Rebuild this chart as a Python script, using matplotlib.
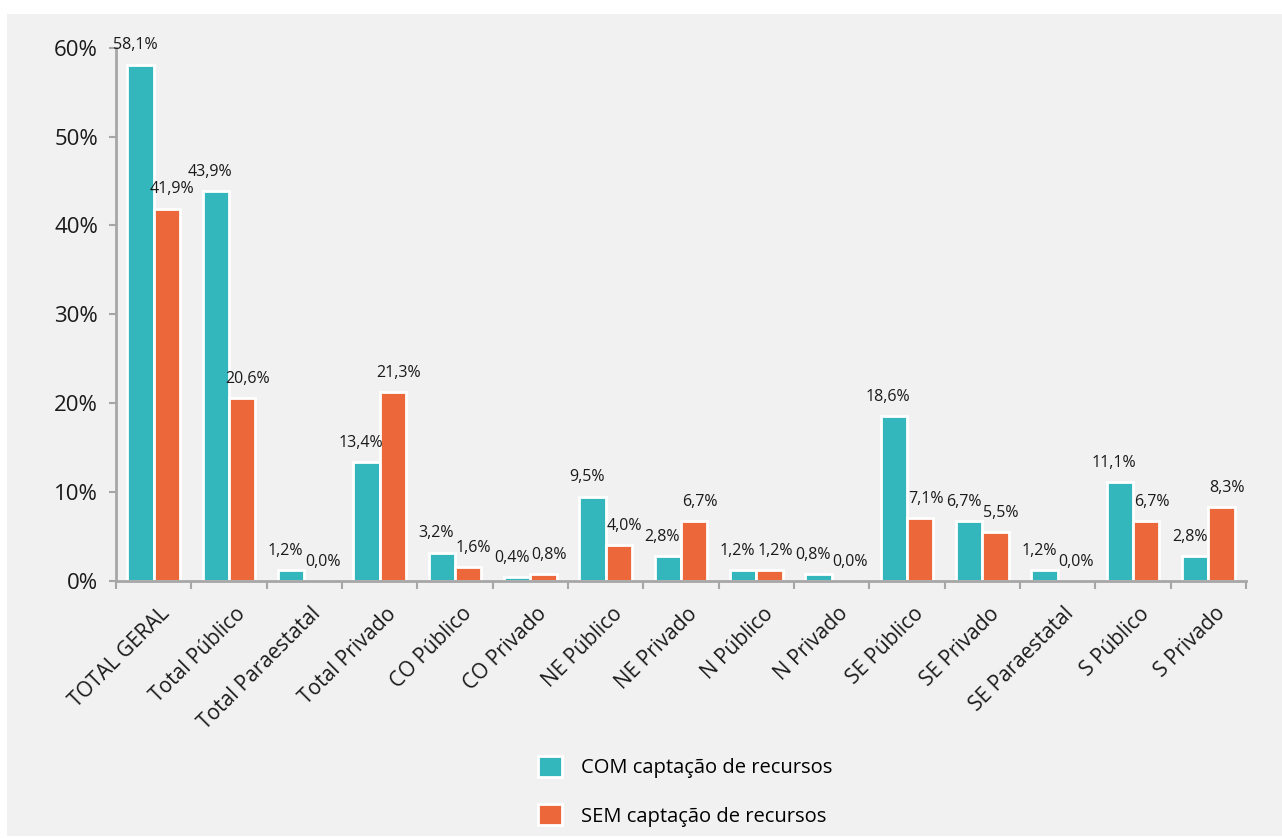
import matplotlib
matplotlib.use("Agg")
import matplotlib.pyplot as plt
import matplotlib.transforms as mtransforms
from matplotlib.patches import Rectangle
import numpy as np

# dados do gráfico
categorias = ["TOTAL GERAL", "Total Público", "Total Paraestatal", "Total Privado",
              "CO Público", "CO Privado", "NE Público", "NE Privado",
              "N Público", "N Privado", "SE Público", "SE Privado",
              "SE Paraestatal", "S Público", "S Privado"]
com_captacao = [58.1, 43.9, 1.2, 13.4, 3.2, 0.4, 9.5, 2.8, 1.2, 0.8, 18.6, 6.7, 1.2, 11.1, 2.8]
sem_captacao = [41.9, 20.6, 0.0, 21.3, 1.6, 0.8, 4.0, 6.7, 1.2, 0.0, 7.1, 5.5, 0.0, 6.7, 8.3]
serie_nomes = ["COM captação de recursos", "SEM captação de recursos"]
yticks = [0, 10, 20, 30, 40, 50, 60]

TEAL = "#33b7bc"
LARANJA = "#ec673a"
CINZA = "#a6a6a6"
FUNDO = "#f1f1f1"

plt.rcParams['font.family'] = ['Open Sans', 'DejaVu Sans']


def rotulo(ax, x, v, dx):
	"""escreve o valor em cima da barra, com virgula decimal"""
	txt = ("%.1f%%" % v).replace(".", ",")
	ax.annotate(txt, xy=(x, v), xytext=(dx, 8), textcoords="offset points",
				ha="center", va="bottom", fontsize=11.5, color="#1a1a1a")


W, H = 1282, 838
fig = plt.figure(figsize=(W / 100, H / 100), dpi=100, facecolor="white")
# painel cinza atras de tudo
fig.patches.append(Rectangle((7 / W, 2 / H), 1 - 7 / W, (836 - 14) / H,
							 transform=fig.transFigure, facecolor=FUNDO,
							 edgecolor="none", zorder=-10))

ax = fig.add_axes([116 / W, (H - 581) / H, (1246 - 116) / W, (581 - 47.7) / H])
ax.set_facecolor("none")

x = np.arange(len(categorias))
w = 0.35
b1 = ax.bar(x - w / 2, com_captacao, w, color=TEAL, edgecolor="white", linewidth=2,
			label=serie_nomes[0])
b2 = ax.bar(x + w / 2, sem_captacao, w, color=LARANJA, edgecolor="white", linewidth=2,
			label=serie_nomes[1])
for i in range(len(categorias)):
	rotulo(ax, x[i] - w / 2, com_captacao[i], -4)
	rotulo(ax, x[i] + w / 2, sem_captacao[i], 4)

ax.set_xlim(-0.5, len(categorias) - 0.5)
ax.set_ylim(0, 60)
ax.set_yticks(yticks)
ax.set_yticklabels(["%d%%" % t for t in yticks], fontsize=16, color="#1a1a1a")
ax.tick_params(axis="y", length=5, width=1.5, color=CINZA, pad=8)

# marcas entre as categorias, rotulos no centro
ax.set_xticks(x)
ax.set_xticklabels(categorias, rotation=45, ha="right", rotation_mode="anchor",
				   fontsize=15, color="#1a1a1a")
ax.set_xticks(np.arange(len(categorias) + 1) - 0.5, minor=True)
ax.tick_params(axis="x", which="major", length=0, pad=16)
ax.tick_params(axis="x", which="minor", length=6, width=1.5, color=CINZA)
desloc = mtransforms.ScaledTranslation(6 / 100, 0, fig.dpi_scale_trans)
for lb in ax.get_xticklabels():
	lb.set_transform(lb.get_transform() + desloc)

for lado in ["top", "right"]:
	ax.spines[lado].set_visible(False)
for lado in ["left", "bottom"]:
	ax.spines[lado].set_color(CINZA)
	ax.spines[lado].set_linewidth(2)

fig.legend(handles=[b1, b2], loc="upper left", bbox_to_anchor=(520 / W, 1 - 738 / H),
		   frameon=False, fontsize=14.5, handlelength=1.2, handleheight=1.2,
		   handletextpad=0.95, labelspacing=1.3)

fig.savefig("out.png", dpi=100, facecolor=fig.get_facecolor())
